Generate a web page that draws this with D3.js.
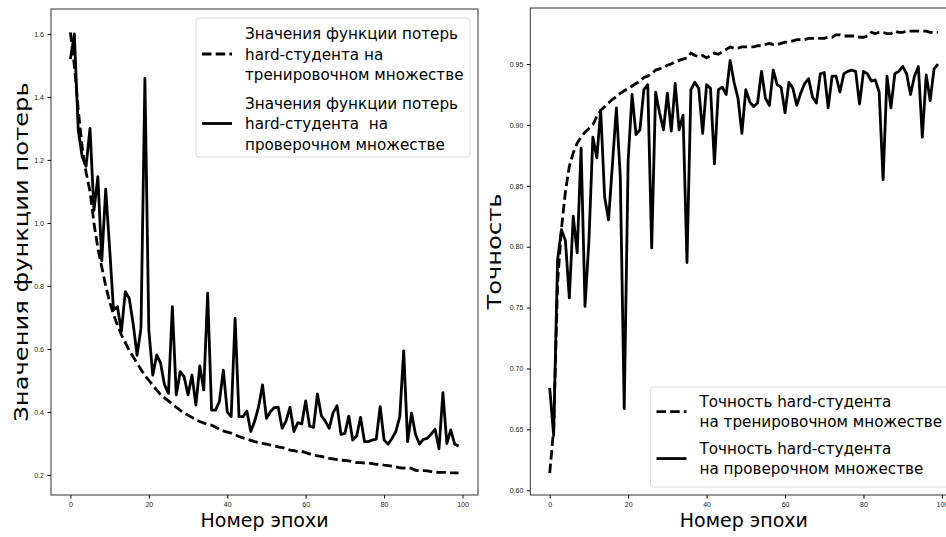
<!DOCTYPE html>
<html>
<head>
<meta charset="utf-8">
<script src="https://cdnjs.cloudflare.com/ajax/libs/d3/7.8.5/d3.min.js"></script>
<style>
  body { margin: 0; background: #fff; }
  svg { display: block; font-family: "DejaVu Sans", sans-serif; }
  .tick text { fill: #222; }
</style>
</head>
<body>
<div id="chart"></div>
<script>
// epochs 0..99
const epochs = d3.range(100);

const trainLoss = [1.605, 1.50, 1.36, 1.24, 1.16, 1.10, 1.00, 0.92, 0.86, 0.80,
  0.75, 0.71, 0.675, 0.645, 0.62, 0.595, 0.575, 0.555, 0.535, 0.515,
  0.50, 0.485, 0.47, 0.455, 0.445, 0.435, 0.425, 0.415, 0.405, 0.397,
  0.39, 0.383, 0.375, 0.37, 0.365, 0.36, 0.358, 0.352, 0.345, 0.34,
  0.336, 0.333, 0.328, 0.322, 0.318, 0.314, 0.31, 0.306, 0.303, 0.30,
  0.298, 0.295, 0.292, 0.289, 0.287, 0.284, 0.279, 0.277, 0.274, 0.275,
  0.271, 0.267, 0.263, 0.261, 0.259, 0.256, 0.253, 0.251, 0.249, 0.247,
  0.246, 0.245, 0.242, 0.239, 0.239, 0.238, 0.238, 0.236, 0.234, 0.233,
  0.231, 0.230, 0.228, 0.226, 0.223, 0.222, 0.224, 0.221, 0.215, 0.214,
  0.214, 0.213, 0.211, 0.209, 0.208, 0.208, 0.208, 0.207, 0.207, 0.207];

const valLoss = [1.52, 1.60, 1.295, 1.21, 1.18, 1.30, 1.04, 1.147, 0.88, 1.107,
  0.92, 0.724, 0.734, 0.655, 0.782, 0.761, 0.68, 0.58, 0.666, 1.459,
  0.66, 0.517, 0.581, 0.555, 0.486, 0.459, 0.734, 0.454, 0.528, 0.512,
  0.454, 0.517, 0.422, 0.546, 0.47, 0.777, 0.406, 0.406, 0.433, 0.533,
  0.40, 0.385, 0.697, 0.385, 0.385, 0.403, 0.338, 0.371, 0.417, 0.486,
  0.38, 0.401, 0.414, 0.415, 0.348, 0.372, 0.415, 0.338, 0.366, 0.362,
  0.435, 0.355, 0.351, 0.457, 0.388, 0.371, 0.348, 0.398, 0.42, 0.329,
  0.332, 0.387, 0.311, 0.324, 0.383, 0.306, 0.306, 0.311, 0.314, 0.417,
  0.311, 0.298, 0.316, 0.338, 0.385, 0.594, 0.306, 0.396, 0.33, 0.298,
  0.313, 0.316, 0.33, 0.345, 0.283, 0.461, 0.30, 0.343, 0.298, 0.292];

const trainAcc = [0.614, 0.650, 0.77, 0.815, 0.845, 0.866, 0.877, 0.885, 0.890, 0.894,
  0.897, 0.900, 0.907, 0.912, 0.915, 0.918, 0.921, 0.923, 0.926, 0.928,
  0.930, 0.932, 0.934, 0.936, 0.939, 0.940, 0.942, 0.945, 0.946, 0.947,
  0.949, 0.950, 0.952, 0.953, 0.954, 0.955, 0.959, 0.957, 0.956, 0.957,
  0.955, 0.957, 0.959, 0.958, 0.960, 0.962, 0.964, 0.963, 0.963, 0.964,
  0.964, 0.964, 0.964, 0.965, 0.965, 0.966, 0.967, 0.966, 0.966, 0.967,
  0.968, 0.968, 0.969, 0.970, 0.970, 0.970, 0.971, 0.971, 0.971, 0.971,
  0.971, 0.972, 0.972, 0.974, 0.974, 0.973, 0.973, 0.973, 0.973, 0.972,
  0.972, 0.973, 0.976, 0.975, 0.976, 0.976, 0.975, 0.975, 0.977, 0.976,
  0.976, 0.977, 0.977, 0.977, 0.977, 0.977, 0.977, 0.976, 0.976, 0.976];

const valAcc = [0.684, 0.645, 0.789, 0.814, 0.805, 0.758, 0.825, 0.795, 0.881, 0.751,
  0.805, 0.890, 0.873, 0.912, 0.841, 0.822, 0.868, 0.914, 0.857, 0.667,
  0.871, 0.925, 0.892, 0.896, 0.929, 0.933, 0.799, 0.927, 0.910, 0.896,
  0.926, 0.895, 0.934, 0.896, 0.908, 0.787, 0.929, 0.935, 0.930, 0.893,
  0.933, 0.930, 0.868, 0.929, 0.931, 0.925, 0.953, 0.935, 0.922, 0.893,
  0.929, 0.919, 0.915, 0.918, 0.944, 0.922, 0.916, 0.945, 0.933, 0.931,
  0.910, 0.935, 0.930, 0.916, 0.926, 0.934, 0.938, 0.923, 0.918, 0.942,
  0.943, 0.914, 0.940, 0.940, 0.927, 0.942, 0.944, 0.945, 0.944, 0.917,
  0.944, 0.942, 0.936, 0.937, 0.927, 0.855, 0.940, 0.914, 0.942, 0.944,
  0.948, 0.942, 0.925, 0.940, 0.948, 0.890, 0.941, 0.920, 0.946, 0.950];

const epochTicks = [0, 20, 40, 60, 80, 100];
const lossTicks = [0.2, 0.4, 0.6, 0.8, 1.0, 1.2, 1.4, 1.6];
const accTicks = [0.60, 0.65, 0.70, 0.75, 0.80, 0.85, 0.90, 0.95];

const lossLabels = [
  ["Значения функции потерь", "hard-студента на", "тренировочном множестве"],
  ["Значения функции потерь", "hard-студента  на", "проверочном множестве"]
];
const accLabels = [
  ["Точность hard-студента", "на тренировочном множестве"],
  ["Точность hard-студента", "на проверочном множестве"]
];

const W = 946, H = 537;
const svg = d3.select("#chart").append("svg")
  .attr("width", W)
  .attr("height", H);

// text in the picture is a bit narrower than plain DejaVu
const squeeze = 0.95;

function panel(o) {
  const g = svg.append("g");
  const x = d3.scaleLinear().domain([-4.95, 103.95]).range([o.left, o.right]);
  const y = d3.scaleLinear().domain(o.yDomain).range([o.bottom, o.top]);

  g.append("g")
    .attr("transform", `translate(0,${o.bottom})`)
    .call(d3.axisBottom(x).tickValues(epochTicks).tickSize(3.5).tickPadding(3.5).tickFormat(d3.format("d")))
    .call(a => a.select(".domain").remove())
    .selectAll("text").style("font-size", "7px");

  g.append("g")
    .attr("transform", `translate(${o.left},0)`)
    .call(d3.axisLeft(y).tickValues(o.yTicks).tickSize(3.5).tickPadding(3.5).tickFormat(d3.format(o.fmt)))
    .call(a => a.select(".domain").remove())
    .selectAll("text").style("font-size", "7px");

  g.append("rect")
    .attr("x", o.left).attr("y", o.top)
    .attr("width", o.right - o.left).attr("height", o.bottom - o.top)
    .attr("fill", "none").attr("stroke", "#333").attr("stroke-width", 1);

  const line = d3.line().x((d, i) => x(epochs[i])).y(d => y(d));

  g.append("path").datum(o.train)
    .attr("d", line).attr("fill", "none").attr("stroke", "#000")
    .attr("stroke-width", 2.8).attr("stroke-dasharray", "9.5,4.2");
  g.append("path").datum(o.val)
    .attr("d", line).attr("fill", "none").attr("stroke", "#000")
    .attr("stroke-width", 2.8).attr("stroke-linejoin", "round");

  // axis labels
  g.append("text")
    .attr("transform", `translate(${(o.left + o.right) / 2},527) scale(${squeeze},1)`)
    .attr("text-anchor", "middle").style("font-size", "20px")
    .text("Номер эпохи");
  g.append("text")
    .attr("transform", `translate(${o.ylabX},${(o.top + o.bottom) / 2}) rotate(-90) scale(1.21,1)`)
    .attr("text-anchor", "middle").style("font-size", "20px")
    .text(o.ylabel);

  // legend
  const L = o.legend;
  g.append("rect")
    .attr("x", L.x).attr("y", L.y).attr("width", L.w).attr("height", L.h)
    .attr("rx", 3).attr("fill", "#fff").attr("fill-opacity", 0.8)
    .attr("stroke", "#ddd").attr("stroke-width", 1);
  o.labels.forEach((lines, k) => {
    const top = L.y + L.firstBase + k * L.entryStep;
    const hy = top + (lines.length - 1) * L.lineStep / 2 - 5.5;
    g.append("line")
      .attr("x1", L.x + 6).attr("x2", L.x + 36).attr("y1", hy).attr("y2", hy)
      .attr("stroke", "#000").attr("stroke-width", 2.8)
      .attr("stroke-dasharray", k === 0 ? "9.5,4.2" : null);
    lines.forEach((t, j) => {
      g.append("text")
        .attr("transform", `translate(${L.x + 49},${top + j * L.lineStep}) scale(${squeeze},1)`)
        .style("font-size", "16px").attr("xml:space", "preserve")
        .text(t);
    });
  });
}

panel({
  left: 51, right: 478, top: 9, bottom: 495,
  yDomain: [0.1365, 1.679], yTicks: lossTicks, fmt: ".1f",
  train: trainLoss, val: valLoss,
  ylabel: "Значения функции потерь", ylabX: 28,
  labels: lossLabels,
  legend: { x: 196, y: 18, w: 274, h: 139, firstBase: 21, lineStep: 20.5, entryStep: 69.5 }
});

panel({
  left: 530.3, right: 957.4, top: 8, bottom: 495,
  yDomain: [0.5961, 0.996], yTicks: accTicks, fmt: ".2f",
  train: trainAcc, val: valAcc,
  ylabel: "Точность", ylabX: 501,
  labels: accLabels,
  legend: { x: 650.5, y: 387, w: 300, h: 100, firstBase: 19.8, lineStep: 20.5, entryStep: 47 }
});
</script>
</body>
</html>
